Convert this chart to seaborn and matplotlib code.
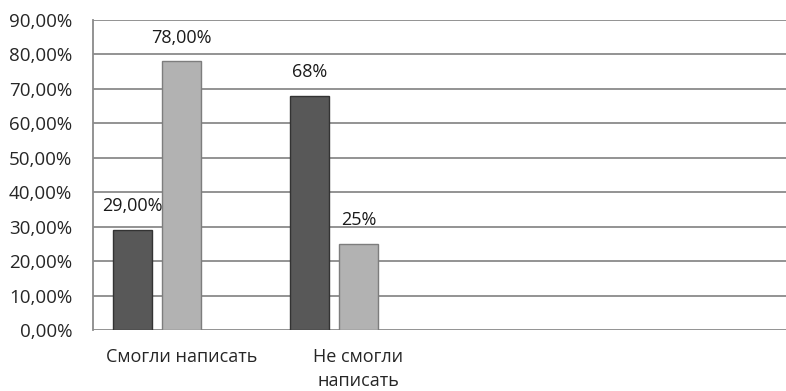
import pandas as pd
import seaborn as sns
import matplotlib.pyplot as plt

# данные с картинки
categories = ["Смогли написать", "Не смогли\nнаписать", " ", "  "]
series = ["Ряд 1", "Ряд 2", "Ряд 3"]
cat_col = ["Смогли написать", "Смогли написать", "Не смогли\nнаписать", "Не смогли\nнаписать"]
ser_col = ["Ряд 1", "Ряд 2", "Ряд 1", "Ряд 2"]
values = [29, 78, 68, 25]
value_labels = ["29,00%", "78,00%", "68%", "25%"]
y_ticks = [0, 10, 20, 30, 40, 50, 60, 70, 80, 90]
y_tick_labels = ["0,00%", "10,00%", "20,00%", "30,00%", "40,00%", "50,00%",
                 "60,00%", "70,00%", "80,00%", "90,00%"]

df = pd.DataFrame({"cat": cat_col, "series": ser_col, "value": values})

sns.set_style("white")
plt.rcParams['font.family'] = ['Open Sans', 'DejaVu Sans']

fig = plt.figure(figsize=(7.86, 3.91), dpi=100)
ax = fig.add_axes([93 / 786, 1 - 330 / 391, 1 - 93 / 786, 310 / 391])

sns.barplot(data=df, x="cat", y="value", hue="series", order=categories,
            hue_order=series, palette=["#585858", "#b2b2b2", "#cccccc"],
            width=0.83, gap=0.2, linewidth=1.0, legend=False, ax=ax)

# подписи над столбиками + края
bars = [p for p in ax.patches if p.get_height() > 0]
bars = sorted(bars, key=lambda p: p.get_x())
edge_cols = ["#333333", "#7d7d7d", "#333333", "#7d7d7d"]
for p, lab, ec in zip(bars, value_labels, edge_cols):
    p.set_edgecolor(ec)
    ax.annotate(lab, (p.get_x() + p.get_width() / 2, p.get_height()),
                xytext=(0, 17), textcoords="offset points",
                ha="center", va="center", fontsize=13, color="#1a1a1a")

ax.set_ylim(0, 90)
ax.set_xlim(-0.5, 3.415)
ax.set_yticks(y_ticks)
ax.set_yticklabels(y_tick_labels, fontsize=13.5)
ax.tick_params(axis="x", labelsize=13, pad=13, length=0)
ax.tick_params(axis="y", length=0, pad=15)
for t in ax.get_xticklabels():
    t.set_linespacing(1.45)
ax.set_xlabel("")
ax.set_ylabel("")

ax.yaxis.grid(True, color="#8a8a8a", linewidth=1.3)
ax.set_axisbelow(True)
for s in ["top", "right", "bottom"]:
    ax.spines[s].set_visible(False)
ax.spines["left"].set_color("#8a8a8a")
ax.spines["left"].set_linewidth(1.3)

plt.savefig("out.png", dpi=100)
